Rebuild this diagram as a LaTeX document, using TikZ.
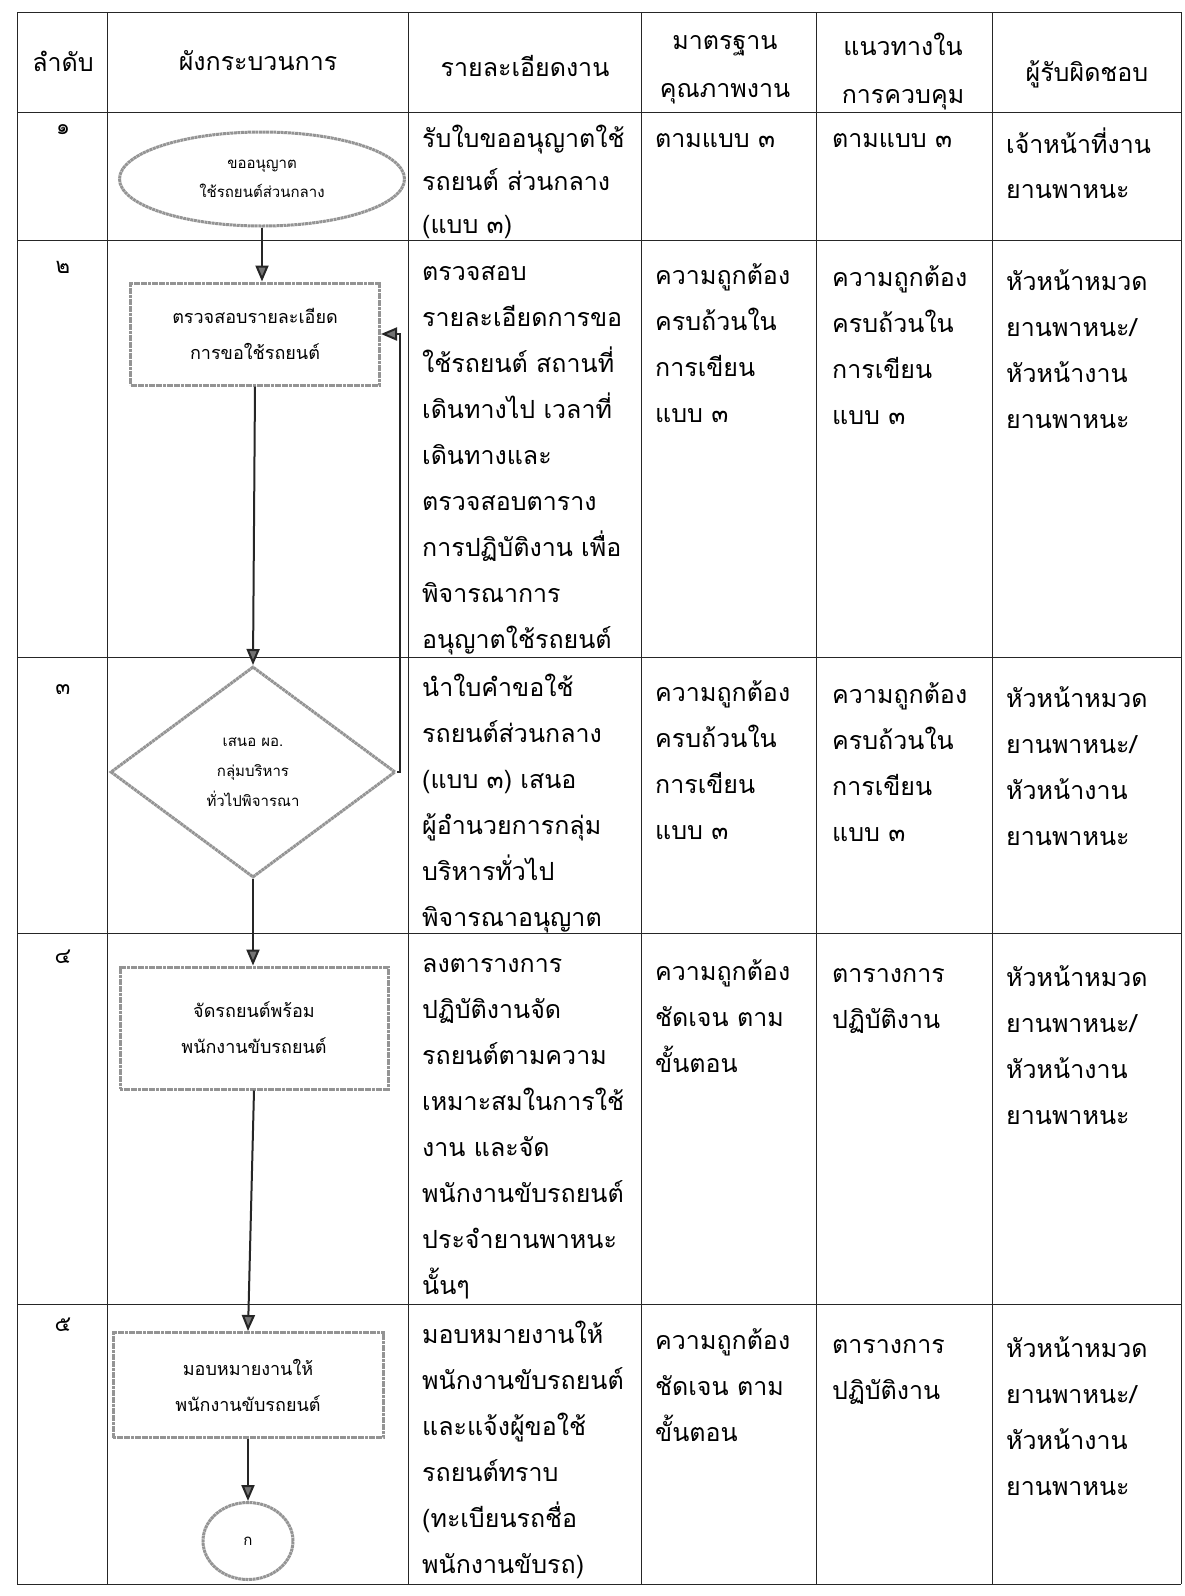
\documentclass[tikz,border=0pt]{standalone}
\usepackage{fontspec}
\setmainfont[Script=Thai]{Loma}
\usetikzlibrary{positioning, arrows.meta, shapes.geometric}

\newcommand{\respText}{หัวหน้าหมวด\\ยานพาหนะ/\\หัวหน้างาน\\ยานพาหนะ}
\newcommand{\checkText}{ความถูกต้อง\\ครบถ้วนใน\\การเขียน\\แบบ ๓}

\begin{document}
\begin{tikzpicture}
  [
    x=1pt, y=-1pt,
    grid/.style={draw=black!85, line width=0.8pt},
    shapeline/.style={draw=black!42, line width=3pt, dash pattern=on 3pt off 0.6pt},
    process/.style={shapeline, rectangle, inner sep=0pt, align=center, font=\fontsize{18}{36}\selectfont},
    terminal/.style={shapeline, ellipse, inner sep=0pt, minimum width=285pt, minimum height=94pt, align=center, font=\fontsize{15}{29}\selectfont},
    decision/.style={shapeline, diamond, inner sep=0pt, minimum width=285pt, minimum height=211pt, align=center, font=\fontsize{15}{30}\selectfont},
    connector/.style={shapeline, ellipse, inner sep=0pt, minimum width=90pt, minimum height=77pt, font=\fontsize{15}{18}\selectfont},
    flow/.style={-{Triangle[length=16pt, width=13pt, fill=black!55]}, line width=2pt, draw=black!85},
    cell/.style={anchor=base west, align=left, inner sep=0pt, text width=300pt, font=\fontsize{25}{46}\selectfont},
    head/.style={align=center, inner sep=0pt, font=\fontsize{25}{48}\selectfont},
    num/.style={inner sep=0pt, font=\fontsize{22}{26}\selectfont}
  ]
    \useasboundingbox [fill=white] (0,0) rectangle (1184,1596);

    % =========================================================================
    % TABLE
    % =========================================================================
    \foreach \x in {17,107,408,641,816,992,1181}
      \draw [grid] (\x,12) -- (\x,1584);
    \foreach \y in {12,112,240,657,933,1304,1584}
      \draw [grid] (17,\y) -- (1181,\y);

    % --- HEADER ---
    \node [head] (hOrder) at (63,61) {ลำดับ};
    \node [head] (hFlow) at (258,61) {ผังกระบวนการ};
    \node [head] (hDetail) at (525,66) {รายละเอียดงาน};
    \node [head] (hStandard) at (725,70) {มาตรฐาน\\คุณภาพงาน};
    \node [head] (hControl) at (903,72) {แนวทางใน\\การควบคุม};
    \node [head] (hOwner) at (1087,74) {ผู้รับผิดชอบ};

    % --- STEP NUMBERS ---
    \node [num] (n1) at (63,130) {๑};
    \node [num] (n2) at (63,267) {๒};
    \node [num] (n3) at (63,690) {๓};
    \node [num] (n4) at (63,957) {๔};
    \node [num] (n5) at (63,1325) {๕};

    % =========================================================================
    % FLOW NODES
    % =========================================================================
    \node [terminal] (request) at (262,179) {ขออนุญาต\\ใช้รถยนต์ส่วนกลาง};
    \node [process, minimum width=249pt, minimum height=102pt] (check) at (255,334) {ตรวจสอบรายละเอียด\\การขอใช้รถยนต์};
    \node [decision] (propose) at (253,772) {เสนอ ผอ.\\กลุ่มบริหาร\\ทั่วไปพิจารณา};
    \node [process, minimum width=268pt, minimum height=122pt] (arrange) at (254,1028) {จัดรถยนต์พร้อม\\พนักงานขับรถยนต์};
    \node [process, minimum width=270pt, minimum height=105pt] (assign) at (248,1385) {มอบหมายงานให้\\พนักงานขับรถยนต์};
    \node [connector] (next) at (248,1541) {ก};

    % =========================================================================
    % PATHS
    % =========================================================================
    \draw [flow] (request.south) -- (request.south |- check.north);
    \draw [flow] (check.south) -- (propose.north);
    \draw [flow] (propose.south) -- (propose.south |- arrange.north);
    \draw [flow] (arrange.south) -- (assign.north);
    \draw [flow] (assign.south) -- (next.north);
    \draw [flow] (propose.east) -- ++(3,0) |- (check.east);

    % =========================================================================
    % CELL TEXTS
    % =========================================================================
    % --- ROW 1 ---
    \node [cell, font=\fontsize{25}{43}\selectfont] (d1) at (422,147) {รับใบขออนุญาตใช้\\รถยนต์ ส่วนกลาง\\(แบบ ๓)};
    \node [cell] (s1) at (655,147) {ตามแบบ ๓};
    \node [cell] (c1) at (832,147) {ตามแบบ ๓};
    \node [cell, font=\fontsize{25}{45}\selectfont] (r1) at (1006,153) {เจ้าหน้าที่งาน\\ยานพาหนะ};
    % --- ROW 2 ---
    \node [cell] (d2) at (422,280) {ตรวจสอบ\\รายละเอียดการขอ\\ใช้รถยนต์ สถานที่\\เดินทางไป เวลาที่\\เดินทางและ\\ตรวจสอบตาราง\\การปฏิบัติงาน เพื่อ\\พิจารณาการ\\อนุญาตใช้รถยนต์};
    \node [cell] (s2) at (655,284) {\checkText};
    \node [cell] (c2) at (832,286) {\checkText};
    \node [cell] (r2) at (1006,290) {\respText};
    % --- ROW 3 ---
    \node [cell] (d3) at (422,696) {นำใบคำขอใช้\\รถยนต์ส่วนกลาง\\(แบบ ๓) เสนอ\\ผู้อำนวยการกลุ่ม\\บริหารทั่วไป\\พิจารณาอนุญาต};
    \node [cell] (s3) at (655,701) {\checkText};
    \node [cell] (c3) at (832,703) {\checkText};
    \node [cell] (r3) at (1006,707) {\respText};
    % --- ROW 4 ---
    \node [cell] (d4) at (422,972) {ลงตารางการ\\ปฏิบัติงานจัด\\รถยนต์ตามความ\\เหมาะสมในการใช้\\งาน และจัด\\พนักงานขับรถยนต์\\ประจำยานพาหนะ\\นั้นๆ};
    \node [cell] (s4) at (655,980) {ความถูกต้อง\\ชัดเจน ตาม\\ขั้นตอน};
    \node [cell] (c4) at (832,982) {ตารางการ\\ปฏิบัติงาน};
    \node [cell] (r4) at (1006,986) {\respText};
    % --- ROW 5 ---
    \node [cell] (d5) at (422,1343) {มอบหมายงานให้\\พนักงานขับรถยนต์\\และแจ้งผู้ขอใช้\\รถยนต์ทราบ\\(ทะเบียนรถชื่อ\\พนักงานขับรถ)};
    \node [cell] (s5) at (655,1349) {ความถูกต้อง\\ชัดเจน ตาม\\ขั้นตอน};
    \node [cell] (c5) at (832,1353) {ตารางการ\\ปฏิบัติงาน};
    \node [cell] (r5) at (1006,1357) {\respText};

\end{tikzpicture}
\end{document}
